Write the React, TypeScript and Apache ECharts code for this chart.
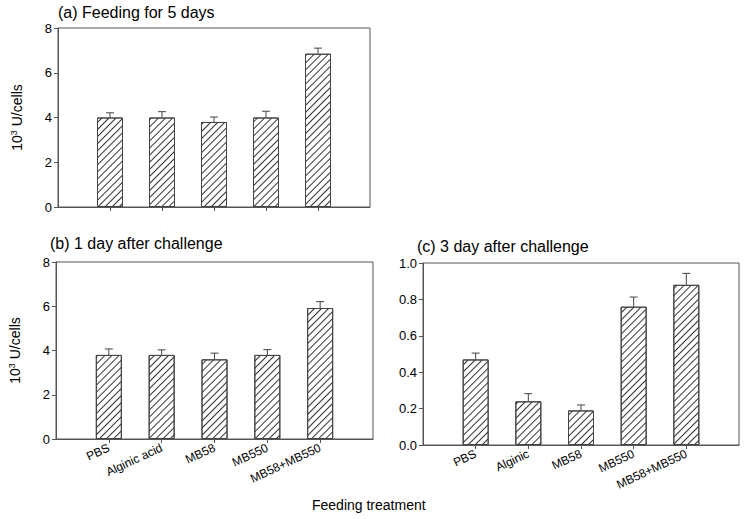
import React, { useEffect, useRef } from "react";
import * as echarts from "echarts";

const catsAB = ["PBS", "Alginic acid", "MB58", "MB550", "MB58+MB550"];
const catsC = ["PBS", "Alginic", "MB58", "MB550", "MB58+MB550"];

const valsA = [4.0, 4.0, 3.8, 4.0, 6.85];
const errsA = [0.21, 0.26, 0.22, 0.28, 0.25];
const valsB = [3.8, 3.8, 3.6, 3.8, 5.92];
const errsB = [0.27, 0.23, 0.28, 0.24, 0.29];
const valsC = [0.47, 0.24, 0.19, 0.76, 0.88];
const errsC = [0.035, 0.042, 0.03, 0.053, 0.063];

const titles = ["(a) Feeding for 5 days", "(b) 1 day after challenge", "(c) 3 day after challenge"];
const xTitle = "Feeding treatment";

const FONT = "Liberation Sans, Arial, sans-serif";
const AXIS_COLOR = "#555";

export default function App() {
  const ref = useRef<HTMLDivElement>(null);
  useEffect(() => {
    document.body.style.margin = "0";
    const chart = echarts.init(ref.current!, null, { renderer: "svg" });

    const grids = [
      { left: 58, right: 375, top: 28, bottom: 312 },
      { left: 56, right: 372, top: 262, bottom: 80 },
      { left: 423, right: 6, top: 263, bottom: 74 },
    ].map((g) => ({ ...g, show: true, borderColor: AXIS_COLOR, borderWidth: 1, backgroundColor: "transparent" }));

    const catList = [catsAB, catsAB, catsC];
    const xAxes = catList.map((cats, i) => ({
      type: "category",
      gridIndex: i,
      data: ["", ...cats, ""],
      boundaryGap: false,
      axisLine: { lineStyle: { color: AXIS_COLOR, width: 1 } },
      axisTick: {
        show: true,
        length: 4,
        alignWithLabel: true,
        interval: (idx: number) => idx > 0 && idx < cats.length + 1,
        lineStyle: { color: AXIS_COLOR },
      },
      axisLabel: {
        show: i > 0,
        interval: 0,
        rotate: 25,
        margin: 8,
        fontSize: 12,
        fontFamily: FONT,
        color: "#000",
      },
      splitLine: { show: false },
    }));

    const yCfg = [
      { max: 8, interval: 2, dec: 0, name: true },
      { max: 8, interval: 2, dec: 0, name: true },
      { max: 1, interval: 0.2, dec: 1, name: false },
    ];
    const yAxes = yCfg.map((c, i) => ({
      type: "value",
      gridIndex: i,
      min: 0,
      max: c.max,
      interval: c.interval,
      name: c.name ? "10{sup|3} U/cells" : "",
      nameLocation: "middle",
      nameRotate: 90,
      nameGap: 34,
      nameTextStyle: {
        fontSize: 14,
        fontFamily: FONT,
        color: "#000",
        rich: { sup: { fontSize: 9, verticalAlign: "top", padding: [0, 0, 6, 0], fontFamily: FONT, color: "#000" } },
      },
      axisLine: { show: true, lineStyle: { color: AXIS_COLOR, width: 1 } },
      axisTick: { show: true, length: 4, lineStyle: { color: AXIS_COLOR } },
      axisLabel: {
        fontSize: 13,
        fontFamily: FONT,
        color: "#000",
        margin: 6,
        formatter: (v: number) => v.toFixed(c.dec),
      },
      splitLine: { show: false },
    }));

    const valList = [valsA, valsB, valsC];
    const errList = [errsA, errsB, errsC];
    const series: any[] = [];
    valList.forEach((vals, i) => {
      series.push({
        type: "bar",
        xAxisIndex: i,
        yAxisIndex: i,
        data: ["-", ...vals, "-"],
        barWidth: 26,
        itemStyle: {
          color: "#fff",
          borderColor: "#444",
          borderWidth: 1,
          decal: {
            symbol: "rect",
            symbolSize: 1,
            dashArrayX: [1, 0],
            dashArrayY: [1, 3.5],
            rotation: -Math.PI / 4,
            color: "#333",
          },
        },
        z: 2,
      });
      series.push({
        type: "custom",
        xAxisIndex: i,
        yAxisIndex: i,
        data: vals.map((v, k) => [k + 1, v, errList[i][k]]),
        encode: { x: 0, y: 1 },
        z: 3,
        renderItem: (params: any, api: any) => {
          const x = api.value(0);
          const v = api.value(1);
          const e = api.value(2);
          const p0 = api.coord([x, v]);
          const p1 = api.coord([x, v + e]);
          const style = { stroke: "#444", lineWidth: 1 };
          return {
            type: "group",
            children: [
              { type: "line", shape: { x1: p0[0], y1: p0[1], x2: p1[0], y2: p1[1] }, style },
              { type: "line", shape: { x1: p1[0] - 4, y1: p1[1], x2: p1[0] + 4, y2: p1[1] }, style },
            ],
          };
        },
      });
    });

    chart.setOption({
      animation: false,
      backgroundColor: "#fff",
      title: [
        { text: titles[0], left: 58, top: 4 },
        { text: titles[1], left: 50, top: 235 },
        { text: titles[2], left: 417, top: 238 },
        { text: xTitle, left: 312, top: 498, textStyle: { fontSize: 14, fontWeight: "normal", fontFamily: FONT, color: "#000" } },
      ].map((t: any) => ({
        padding: 0,
        textStyle: { fontSize: 16, fontWeight: "normal", fontFamily: FONT, color: "#000" },
        ...t,
      })),
      grid: grids,
      xAxis: xAxes,
      yAxis: yAxes,
      series,
    });
    return () => chart.dispose();
  }, []);
  return <div ref={ref} style={{ width: 745, height: 519 }} />;
}
